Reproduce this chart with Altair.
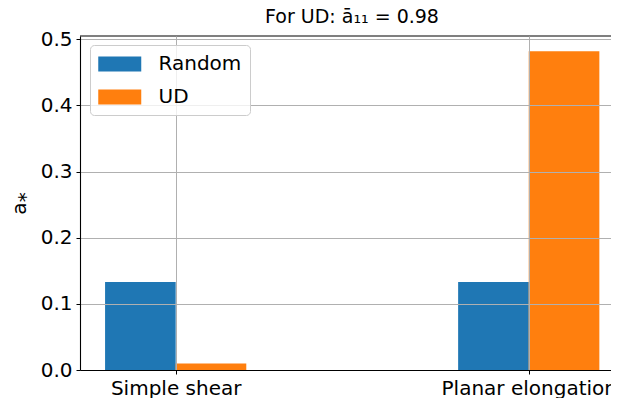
import altair as alt
import pandas as pd

categories = ["Simple shear", "Planar elongation"]
series = ["Random", "UD"]
random_vals = [0.133, 0.133]
ud_vals = [0.010, 0.482]
colors = ["#1f77b4", "#ff7f0e"]
bar_width = 0.2
title_text = ["For UD: ā₁₁ = 0.98"]

rows = []
for i, cat in enumerate(categories):
    for s, vals, off in [("Random", random_vals, -0.1), ("UD", ud_vals, 0.1)]:
        rows.append({"category": cat, "series": s, "value": vals[i],
                     "x0": i + off - bar_width / 2, "x1": i + off + bar_width / 2})
df = pd.DataFrame(rows)

label_expr = "datum.value == 0 ? 'Simple shear' : (datum.value == 1 ? 'Planar elongation' : '')"

font = "DejaVu Sans"
fs = 20
W, H = 531, 334

bars = alt.Chart(df).mark_bar().encode(
    x=alt.X("x0:Q", scale=alt.Scale(domain=[-0.271, 1.233], nice=False, zero=False),
            axis=alt.Axis(values=[0, 1], labelExpr=label_expr, title=None,
                          grid=True, gridColor="#b0b0b0", gridWidth=1,
                          tickColor="black", tickSize=4, labelPadding=4,
                          domain=True, domainColor="black", domainWidth=1.1,
                          zindex=1)),
    x2="x1:Q",
    y=alt.Y("value:Q", scale=alt.Scale(domain=[0, 0.505], nice=False),
            axis=alt.Axis(values=[0, 0.1, 0.2, 0.3, 0.4, 0.5], format=".1f",
                          title="a⁎", grid=True, gridColor="#b0b0b0", gridWidth=1,
                          tickColor="black", tickSize=4, labelPadding=4,
                          titlePadding=11, domain=True, domainColor="black",
                          domainWidth=1.1, zindex=1)),
    y2=alt.datum(0),
    color=alt.Color("series:N", scale=alt.Scale(domain=series, range=colors),
                    legend=alt.Legend(title=None, orient="none",
                                      legendX=10, legendY=9,
                                      symbolType="M-1,-0.7H3V0.7H-1Z",
                                      symbolSize=462.25, symbolStrokeWidth=0,
                                      symbolOpacity=1,
                                      labelFontSize=fs, labelFont=font,
                                      labelColor="black", labelOffset=38.5,
                                      rowPadding=12,
                                      fillColor="rgba(255,255,255,0.8)",
                                      strokeColor="#cccccc", cornerRadius=4,
                                      padding=8, zindex=2)),
)

title = alt.Chart(pd.DataFrame({"t": title_text})).mark_text(
    font=font, fontSize=19, color="black", align="center", baseline="alphabetic"
).encode(text="t:N", x=alt.value(272), y=alt.value(-13))

top_spine = alt.Chart(pd.DataFrame({"t": title_text})).mark_rule(
    color="black", strokeWidth=1.1
).encode(x=alt.value(0), x2=alt.value(W), y=alt.value(0))

chart = alt.layer(bars, top_spine, title).properties(
    width=W, height=H,
    autosize=alt.AutoSizeParams(type="none"),
    padding={"left": 72, "top": 28, "right": 0, "bottom": 28},
).configure_view(
    stroke=None
).configure_axis(
    labelFont=font, labelFontSize=fs, labelColor="black",
    titleFont=font, titleFontSize=fs, titleColor="black", titleFontWeight="normal",
)

chart.save("out.html", embed_options={"renderer": "svg", "actions": False})
